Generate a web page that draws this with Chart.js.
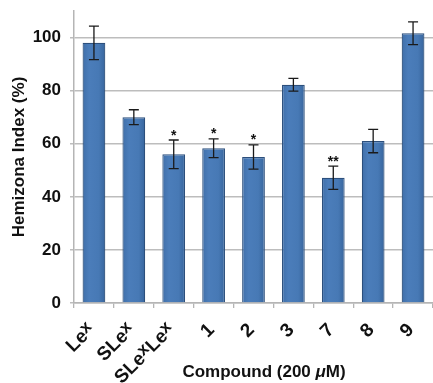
<!DOCTYPE html>
<html>
<head>
<meta charset="utf-8">
<script src="https://cdn.jsdelivr.net/npm/chart.js@4"></script>
<style>
html,body{margin:0;padding:0;background:#fff;}
canvas{display:block;}
</style>
</head>
<body>
<canvas id="c" width="433" height="383"></canvas>
<script>
const categories = ["Le^x","SLe^x","SLe^xLe^x","1","2","3","7","8","9"];
const values = [98.0, 70.0, 56.0, 58.3, 55.0, 82.2, 47.2, 61.0, 101.6];
const errors = [6.3, 2.8, 5.4, 3.5, 4.6, 2.4, 4.4, 4.4, 4.3];
const marks = ["", "", "*", "*", "*", "", "**", "", ""];
const yTicks = [0, 20, 40, 60, 80, 100];
const yTitle = "Hemizona Index (%)";
const xTitleParts = [["Compound (200 ", false], ["\u03bc", true], ["M)", false]];

const FONT = '"Liberation Sans", Arial, Helvetica, sans-serif';

function barFill(context) {
  const chart = context.chart;
  const xs = chart.scales && chart.scales.x;
  if (!xs || context.dataIndex === undefined) return '#4677b3';
  const cx = xs.getPixelForValue(context.dataIndex);
  if (!isFinite(cx)) return '#4677b3';
  const g = chart.ctx.createLinearGradient(cx - 12, 0, cx + 12, 0);
  g.addColorStop(0, '#3f6ea8');
  g.addColorStop(0.3, '#4b7dba');
  g.addColorStop(0.7, '#4779b5');
  g.addColorStop(1, '#36639a');
  return g;
}

const overlay = {
  id: 'overlay',
  afterDatasetsDraw(chart) {
    const ctx = chart.ctx;
    const y = chart.scales.y;
    const meta = chart.getDatasetMeta(0);
    ctx.save();
    ctx.strokeStyle = '#1a1a1a';
    ctx.lineWidth = 1.3;
    meta.data.forEach((bar, i) => {
      const x = bar.x;
      const top = y.getPixelForValue(values[i] + errors[i]);
      const bot = y.getPixelForValue(values[i] - errors[i]);
      ctx.beginPath();
      ctx.moveTo(x, top); ctx.lineTo(x, bot);
      ctx.moveTo(x - 5, top); ctx.lineTo(x + 5, top);
      ctx.moveTo(x - 5, bot); ctx.lineTo(x + 5, bot);
      ctx.stroke();
      if (marks[i]) {
        ctx.fillStyle = '#111';
        ctx.font = 'bold 14px ' + FONT;
        ctx.textAlign = 'center';
        ctx.textBaseline = 'alphabetic';
        ctx.fillText(marks[i], x, top - 0.5);
      }
    });
    ctx.restore();
  },
  afterDraw(chart) {
    const ctx = chart.ctx;
    const xs = chart.scales.x;
    const area = chart.chartArea;
    ctx.save();
    ctx.fillStyle = '#111';
    categories.forEach((lab, i) => {
      const cx = xs.getPixelForValue(i);
      const parts = [];
      lab.split('^').forEach((p, k) => {
        if (k === 0) { if (p) parts.push([p, false]); }
        else { parts.push([p.charAt(0), true]); if (p.length > 1) parts.push([p.slice(1), false]); }
      });
      const fN = 'bold 19px ' + FONT, fS = 'bold 17px ' + FONT;
      let w = 0;
      parts.forEach(([t, s]) => { ctx.font = s ? fS : fN; w += ctx.measureText(t).width; });
      ctx.save();
      ctx.translate(cx - 2, area.bottom + 24);
      ctx.rotate(-Math.PI / 4);
      ctx.textAlign = 'left';
      ctx.textBaseline = 'middle';
      let px = -w;
      parts.forEach(([t, s]) => {
        ctx.font = s ? fS : fN;
        ctx.fillText(t, px, s ? -4 : 0);
        px += ctx.measureText(t).width;
      });
      ctx.restore();
    });
    ctx.textBaseline = 'middle';
    ctx.textAlign = 'left';
    let tw = 0;
    xTitleParts.forEach(([t, it]) => { ctx.font = (it ? 'italic ' : '') + 'bold 17px ' + FONT; tw += ctx.measureText(t).width; });
    let tx = 264 - tw / 2;
    xTitleParts.forEach(([t, it]) => {
      ctx.font = (it ? 'italic ' : '') + 'bold 17px ' + FONT;
      ctx.fillText(t, tx, 372);
      tx += ctx.measureText(t).width;
    });
    ctx.save();
    ctx.translate(19, (area.top + area.bottom) / 2);
    ctx.rotate(-Math.PI / 2);
    ctx.textAlign = 'center';
    ctx.font = 'bold 17px ' + FONT;
    ctx.fillText(yTitle, 0, 0);
    ctx.restore();
    ctx.restore();
  }
};

new Chart(document.getElementById('c'), {
  type: 'bar',
  data: {
    labels: categories,
    datasets: [{
      data: values,
      backgroundColor: barFill,
      borderColor: '#2c4f7c',
      borderWidth: 1.2,
      categoryPercentage: 1.0,
      barPercentage: 0.57
    }]
  },
  options: {
    responsive: false,
    animation: false,
    devicePixelRatio: 1,
    layout: { padding: { top: 11, right: -3, left: 0, bottom: 0 } },
    plugins: { legend: { display: false }, tooltip: { enabled: false } },
    scales: {
      x: {
        ticks: { display: false },
        grid: { display: true, drawOnChartArea: false, drawTicks: true, tickLength: 5, color: '#b5b5b5', lineWidth: 1.3, offset: true },
        border: { display: true, color: '#b5b5b5', width: 1.5 },
        afterFit(s) { s.height = 80; s.paddingLeft = 0; s.paddingRight = 0; }
      },
      y: {
        min: 0, max: 110,
        ticks: {
          stepSize: 20, includeBounds: false, padding: 9, color: '#111',
          font: { family: FONT, size: 17, weight: 'bold' },
          callback: (v) => yTicks.includes(v) ? String(v) : null
        },
        grid: { color: '#bdbdbd', lineWidth: 1.5, tickLength: 4 },
        border: { display: true, color: '#b5b5b5', width: 1.5 },
        afterFit(s) { s.width = 74; s.paddingTop = 0; s.paddingBottom = 0; }
      }
    }
  },
  plugins: [overlay]
});
</script>
</body>
</html>
